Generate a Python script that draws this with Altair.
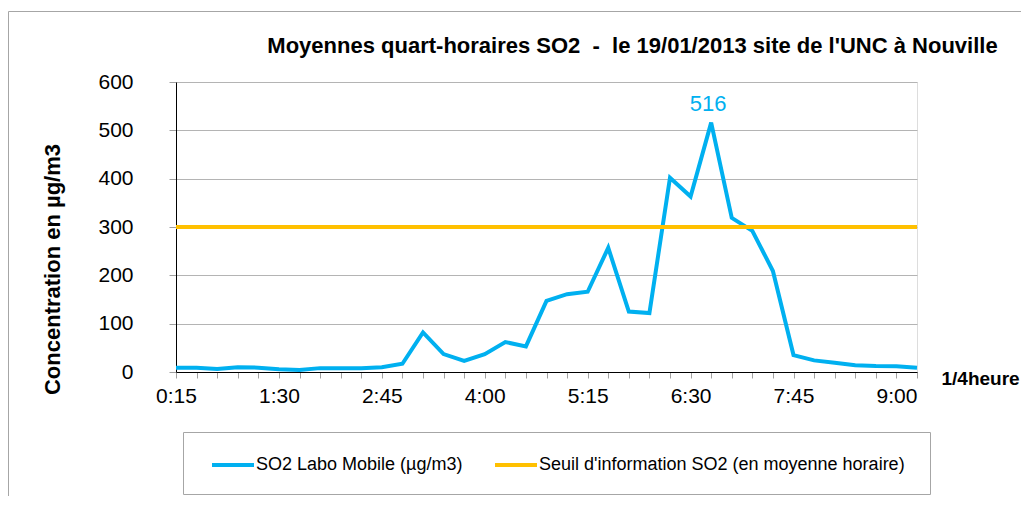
import altair as alt
import pandas as pd

# ---- data ----
times = ["0:15", "0:30", "0:45", "1:00", "1:15", "1:30", "1:45", "2:00", "2:15",
         "2:30", "2:45", "3:00", "3:15", "3:30", "3:45", "4:00", "4:15", "4:30",
         "4:45", "5:00", "5:15", "5:30", "5:45", "6:00", "6:15", "6:30", "6:45",
         "7:00", "7:15", "7:30", "7:45", "8:00", "8:15", "8:30", "8:45", "9:00", "9:15"]
so2 = [9, 9, 6, 10, 9, 5.5, 4, 8, 8, 8, 10, 17, 82, 37, 23, 37, 62, 53, 147, 161,
       166, 257, 125, 122, 402, 363, 516, 319, 292, 209, 35, 24, 19, 14, 12.5, 12, 9]
seuil = 300
tick_labels = ["0:15", "1:30", "2:45", "4:00", "5:15", "6:30", "7:45", "9:00"]
series_names = ["SO2 Labo Mobile (µg/m3)", "Seuil d'information SO2 (en moyenne horaire)"]
series_colors = ["#00B0F0", "#FFC000"]
y_ticks = [0, 100, 200, 300, 400, 500, 600]

FONT = "Liberation Sans"

df = pd.DataFrame(
    [{"time": t, "value": v, "serie": series_names[0]} for t, v in zip(times, so2)]
    + [{"time": t, "value": seuil, "serie": series_names[1]} for t in times]
)

label_list = "[" + ",".join("'" + s + "'" for s in tick_labels) + "]"

x = alt.X(
    "time:O",
    sort=times,
    scale=alt.Scale(type="point", padding=0),
    axis=alt.Axis(
        title="1/4heure",
        titleFont=FONT, titleFontSize=19, titleFontWeight="bold", titleColor="#000",
        titleAngle=0, titleAlign="left", titleBaseline="middle",
        titleX=765, titleY=6,
        labelExpr="indexof(" + label_list + ", datum.value) >= 0 ? datum.value : ''",
        labelOverlap=False, labelFlush=False, labelAngle=0,
        labelFont=FONT, labelFontSize=21, labelColor="#000", labelPadding=7,
        domainColor="#000", domainWidth=1,
        tickColor="#a0a0a0", tickSize=6, grid=False,
    ),
)
y = alt.Y(
    "value:Q",
    scale=alt.Scale(domain=[0, 600], nice=False),
    axis=alt.Axis(
        title="Concentration en µg/m3",
        titleFont=FONT, titleFontSize=22, titleFontWeight="bold", titleColor="#000",
        titleAngle=270, titleAlign="center", titleBaseline="middle",
        titleX=-124, titleY=187,
        values=y_ticks,
        labelFont=FONT, labelFontSize=21, labelColor="#000", labelPadding=36,
        domainColor="#000", domainWidth=1,
        tickColor="#a0a0a0", tickSize=7,
        grid=True, gridColor="#b4b4b4", gridWidth=1,
    ),
)
color = alt.Color(
    "serie:N",
    scale=alt.Scale(domain=series_names, range=series_colors),
    legend=alt.Legend(
        title=None, orient="none", legendX=34, legendY=360, direction="horizontal",
        columns=2, columnPadding=24, padding=0,
        labelFont=FONT, labelFontSize=18, labelColor="#000", labelOffset=0,
        labelLimit=0,
        symbolType="stroke", symbolSize=1764, symbolStrokeWidth=4,
    ),
)

base = alt.Chart(df)

blue = base.transform_filter(alt.datum.serie == series_names[0]).mark_line(
    strokeWidth=4, strokeJoin="miter"
).encode(x=x, y=y, color=color)

orange = base.transform_filter(alt.datum.serie == series_names[1]).mark_line(
    strokeWidth=4
).encode(x=x, y=y, color=color)

peak = base.transform_filter(alt.datum.serie == series_names[0]).transform_joinaggregate(
    vmax="max(value)"
).transform_filter("datum.value == datum.vmax").mark_text(
    font=FONT, fontSize=22, color=series_colors[0], dy=-19, dx=-3,
    baseline="middle", align="center"
).encode(x=x, y=y, text=alt.Text("value:Q", format="d"))

deco = pd.DataFrame({"a": [0]})
frame = alt.Chart(deco).mark_rect(
    filled=False, stroke="#a6a6a6", strokeWidth=1
).encode(
    x=alt.value(-167.5), x2=alt.value(1200), y=alt.value(-70.5), y2=alt.value(1000)
)
legend_box = alt.Chart(deco).mark_rect(
    fill="#ffffff", stroke="#a6a6a6", strokeWidth=1
).encode(
    x=alt.value(7.5), x2=alt.value(754.5), y=alt.value(350.5), y2=alt.value(412.5)
)

chart = alt.layer(frame, legend_box, blue, orange, peak).properties(
    width=741,
    height=290,
    title=alt.TitleParams(
        "Moyennes quart-horaires SO2 \u00a0-\u00a0 le 19/01/2013 site de l'UNC à Nouville",
        font=FONT, fontSize=22, fontWeight="bold", color="#000",
        anchor="middle", frame="group", dx=86, dy=64, offset=0, baseline="alphabetic",
    ),
    autosize=alt.AutoSizeParams(type="none"),
    padding={"left": 168, "top": 74, "right": 104, "bottom": 124},
).configure_view(stroke=None).configure(background="#ffffff")

chart.save("out.html", embed_options={"renderer": "svg", "actions": False})
